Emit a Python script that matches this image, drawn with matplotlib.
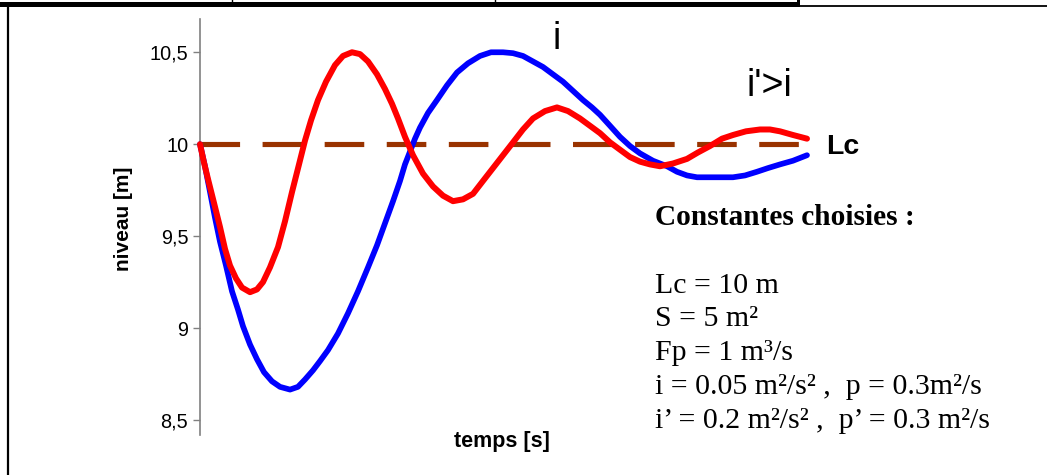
import matplotlib
matplotlib.use("Agg")
import matplotlib.pyplot as plt
from matplotlib.lines import Line2D
from matplotlib.patches import Rectangle

# ---- data ----
t_i = [0, 0.82, 1.65, 2.47, 3.29, 4.28, 5.27, 6.26, 7.08, 8.24,
       9.39, 10.54, 11.86, 13.18, 14.83, 16.14, 17.30, 18.62, 19.77, 21.09,
       22.73, 24.38, 26.03, 27.68, 29.16, 30.48, 31.80, 32.95, 33.77, 34.60,
       35.42, 36.24, 37.56, 39.04, 40.69, 42.34, 44.15, 46.13, 47.94, 49.92,
       51.57, 53.21, 54.86, 56.51, 58.15, 59.80, 61.45, 63.10, 64.58, 65.90,
       67.55, 69.19, 70.84, 72.49, 74.63, 76.94, 78.58, 80.23, 81.88, 83.53,
       85.67, 87.81, 89.79, 91.76, 93.57, 95.55, 97.69, 100]
niveau_i = [10.00, 9.88, 9.74, 9.60, 9.47, 9.34, 9.20, 9.10, 9.01, 8.91,
            8.83, 8.76, 8.71, 8.68, 8.665, 8.68, 8.72, 8.77, 8.82, 8.88,
            8.97, 9.08, 9.20, 9.33, 9.45, 9.57, 9.69, 9.80, 9.89, 9.96,
            10.03, 10.09, 10.17, 10.24, 10.32, 10.39, 10.44, 10.48, 10.50, 10.50,
            10.495, 10.48, 10.45, 10.42, 10.38, 10.34, 10.29, 10.24, 10.20, 10.16,
            10.10, 10.04, 9.99, 9.95, 9.91, 9.88, 9.85, 9.83, 9.82, 9.82,
            9.82, 9.82, 9.83, 9.85, 9.87, 9.89, 9.91, 9.94]

t_ip = [0, 0.66, 1.32, 2.31, 3.29, 4.12, 4.94, 5.93, 6.92, 8.24,
        9.39, 10.38, 11.53, 12.85, 14.00, 15.16, 16.31, 17.30, 18.29, 19.44,
        20.76, 22.24, 23.56, 25.04, 26.36, 27.68, 29.16, 30.48, 31.63, 32.62,
        33.77, 35.09, 36.74, 38.39, 40.03, 41.68, 43.33, 44.98, 46.62, 48.27,
        49.92, 51.57, 53.21, 54.86, 56.84, 58.81, 60.63, 62.60, 64.25, 65.90,
        67.55, 69.19, 70.84, 72.49, 74.14, 75.78, 77.92, 80.23, 82.04, 84.02,
        86.00, 87.81, 89.95, 92.26, 93.90, 95.55, 97.69, 100]
niveau_ip = [10.00, 9.90, 9.81, 9.68, 9.55, 9.43, 9.34, 9.27, 9.22, 9.195,
             9.21, 9.25, 9.33, 9.44, 9.58, 9.74, 9.89, 10.02, 10.13, 10.24,
             10.34, 10.43, 10.48, 10.50, 10.49, 10.45, 10.38, 10.30, 10.22, 10.14,
             10.04, 9.94, 9.84, 9.77, 9.72, 9.69, 9.70, 9.73, 9.80, 9.87,
             9.94, 10.01, 10.08, 10.14, 10.18, 10.20, 10.18, 10.14, 10.10, 10.06,
             10.01, 9.97, 9.93, 9.905, 9.89, 9.88, 9.895, 9.92, 9.955, 9.99,
             10.03, 10.05, 10.07, 10.08, 10.08, 10.07, 10.05, 10.03]

t_lc = [0, 99]
niveau_lc = [10, 10]

yticks = [8.5, 9, 9.5, 10, 10.5]
ytick_labels = ["8,5", "9", "9,5", "10", "10,5"]

W, H = 1047, 475
def fx(x): return x / W
def fy(y): return 1 - y / H

fig = plt.figure(figsize=(W / 100, H / 100), dpi=100)
fig.patch.set_facecolor("white")

ax = fig.add_axes([fx(200), fy(435), fx(807) - fx(200), fy(19) - fy(435)])
ax.set_xlim(0, 100)
ax.set_ylim(8.418, 10.681)

ax.plot(t_lc, niveau_lc, color="#993300", lw=3.7, solid_capstyle="butt",
        dashes=(28.5 / 3.7, 16.2 / 3.7), clip_on=False, zorder=2)
ax.plot(t_i, niveau_i, color="#0000FF", lw=4.1, solid_joinstyle="round",
        solid_capstyle="round", clip_on=False, zorder=3)
ax.plot(t_ip, niveau_ip, color="#FF0000", lw=4.3, solid_joinstyle="round",
        solid_capstyle="round", clip_on=False, zorder=4)

for s in ["top", "right", "bottom"]:
    ax.spines[s].set_visible(False)
ax.spines["left"].set_color("#808080")
ax.spines["left"].set_linewidth(1.2)
ax.set_xticks([])
ax.set_yticks(yticks)
ax.set_yticklabels(ytick_labels, family="Liberation Sans", fontsize=14.3)
ax.tick_params(axis="y", direction="out", length=5, width=1.0, color="#808080", pad=3.5)

ax.set_ylabel("niveau [m]", family="Liberation Sans", fontweight="bold",
              fontsize=15)
ax.yaxis.set_label_coords(-0.110, 0.52)
fig.text(fx(502), fy(442), "temps [s]", family="Liberation Sans",
         fontweight="bold", fontsize=15.5, ha="center", va="center")

# annotations
fig.text(fx(557), fy(39), "i", family="Liberation Sans", fontsize=27,
         ha="center", va="center")
fig.text(fx(769), fy(86), "i'>i", family="Liberation Sans", fontsize=27,
         ha="center", va="center")
fig.text(fx(826), fy(147), "Lc", family="Liberation Sans", fontweight="bold",
         fontsize=20.5, ha="left", va="center")

serif = "Liberation Serif"
fig.text(fx(655), fy(218), "Constantes choisies :", family=serif,
         fontweight="bold", fontsize=21.2, ha="left", va="center")
lines = ["Lc = 10 m", "S = 5 m²", "Fp = 1 m³/s",
         "i = 0.05 m²/s² ,  p = 0.3m²/s",
         "i’ = 0.2 m²/s² ,  p’ = 0.3 m²/s"]
ys = [286, 319, 353, 387, 421]
for txt, yy in zip(lines, ys):
    fig.text(fx(655), fy(yy), txt, family=serif, fontsize=21.5,
             ha="left", va="center")

# frame / table borders
fig.add_artist(Rectangle((0, fy(6.8)), fx(798), fy(2.5) - fy(6.8),
                         transform=fig.transFigure, color="black", lw=0))
fig.add_artist(Rectangle((fx(797), fy(7)), fx(2.5), fy(0) - fy(7),
                         transform=fig.transFigure, color="black", lw=0))
fig.add_artist(Line2D([fx(798), 1], [fy(5.6), fy(5.6)], color="black", lw=1.3,
                      transform=fig.transFigure))
fig.add_artist(Line2D([fx(7.5), fx(7.5)], [0, fy(5)], color="black", lw=1.6,
                      transform=fig.transFigure))
for xs in [232, 495]:
    fig.add_artist(Line2D([fx(xs), fx(xs)], [fy(3), 1], color="black", lw=1.0,
                          transform=fig.transFigure))

fig.savefig("out.png", dpi=100)
